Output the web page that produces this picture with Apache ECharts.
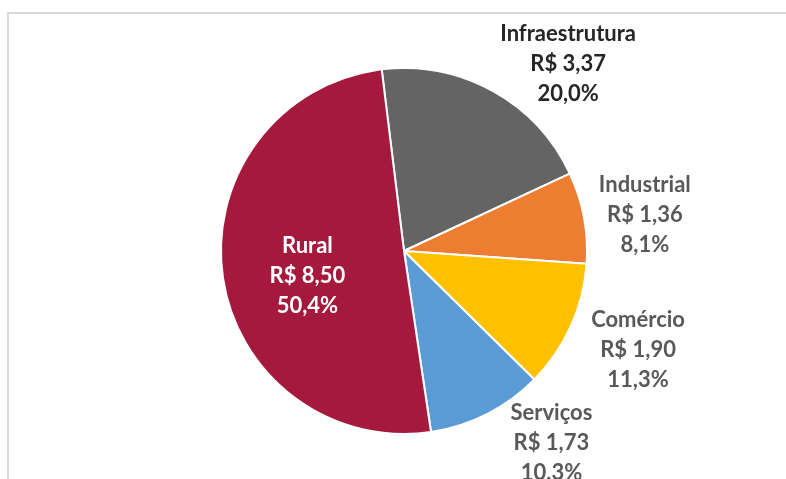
<!DOCTYPE html>
<html>
<head>
<meta charset="utf-8">
<script src="https://cdn.jsdelivr.net/npm/echarts@6/dist/echarts.min.js"></script>
<style>html,body{margin:0;padding:0;background:#fff}#c{width:786px;height:479px}</style>
</head>
<body>
<div id="c"></div>
<script>
var categories = ['Infraestrutura', 'Industrial', 'Comércio', 'Serviços', 'Rural'];
var values = [3.37, 1.36, 1.90, 1.73, 8.50];
var percentLabels = ['20,0%', '8,1%', '11,3%', '10,3%', '50,4%'];

var colors = ['#646464', '#ED7D31', '#FFC000', '#5B9BD5', '#A5193C'];
var labelColors = ['#262626', '#595959', '#595959', '#595959', '#ffffff'];
var labelShift = [[44, 30], [-3, 9], [8, -3], [35, -29], [-3, 12]];

function money(v) { return 'R$ ' + v.toFixed(2).replace('.', ','); }
function labelText(i) { return categories[i] + '\n' + money(values[i]) + '\n' + percentLabels[i]; }

var mainData = categories.map(function (c, i) {
  return {
    name: c, value: values[i],
    itemStyle: { color: colors[i] },
    label: { show: i === 4, color: labelColors[i] }
  };
});
var ringData = categories.map(function (c, i) {
  return {
    name: c, value: values[i],
    label: { show: i !== 4, color: labelColors[i] }
  };
});

var fontBase = { fontFamily: 'Lato', fontWeight: 'bold', fontSize: 22, lineHeight: 30, align: 'center' };

var chart = echarts.init(document.getElementById('c'), null, { renderer: 'canvas' });
chart.setOption({
  animation: false,
  backgroundColor: '#ffffff',
  graphic: [{
    type: 'polyline',
    shape: { points: [[8, 479], [8, 13], [786, 13]] },
    style: { stroke: '#D9D9D9', lineWidth: 2, fill: null },
    silent: true
  }],
  series: [{
    type: 'pie',
    center: [404, 251],
    radius: [0, 183],
    startAngle: 97,
    clockwise: true,
    avoidLabelOverlap: false,
    itemStyle: { borderColor: '#ffffff', borderWidth: 2 },
    label: Object.assign({ position: 'inside', formatter: function (p) { return labelText(p.dataIndex); } }, fontBase),
    labelLine: { show: false },
    labelLayout: function (p) { return { dx: labelShift[p.dataIndex][0], dy: labelShift[p.dataIndex][1] }; },
    emphasis: { disabled: true },
    data: mainData
  }, {
    type: 'pie',
    center: [404, 251],
    radius: [183, 307],
    startAngle: 97,
    clockwise: true,
    silent: true,
    avoidLabelOverlap: false,
    itemStyle: { color: 'rgba(0,0,0,0)', borderWidth: 0 },
    label: Object.assign({ position: 'inside', formatter: function (p) { return labelText(p.dataIndex); } }, fontBase),
    labelLine: { show: false },
    labelLayout: function (p) { return { dx: labelShift[p.dataIndex][0], dy: labelShift[p.dataIndex][1] }; },
    emphasis: { disabled: true },
    data: ringData
  }]
});
</script>
</body>
</html>
